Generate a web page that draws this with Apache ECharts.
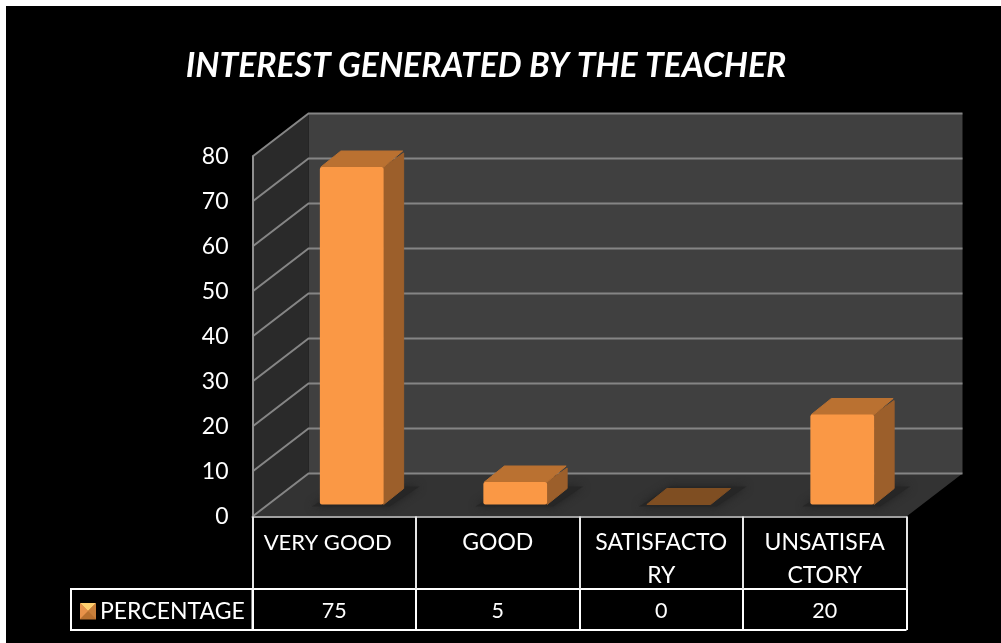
<!DOCTYPE html>
<html>
<head>
<meta charset="utf-8">
<style>html,body{margin:0;padding:0;background:#000}#c{width:1001px;height:643px}</style>
<script src="https://cdn.jsdelivr.net/npm/echarts@6/dist/echarts.min.js"></script>
</head>
<body>
<div id="c"></div>
<script>
const titleText = 'INTEREST GENERATED BY THE TEACHER';
const seriesName = 'PERCENTAGE';
const categories = ['VERY GOOD', 'GOOD', 'SATISFACTO\nRY', 'UNSATISFA\nCTORY'];
const percentages = [75, 5, 0, 20];
const yTicks = [0, 10, 20, 30, 40, 50, 60, 70, 80];

const FONT = 'Lato';
const G = {left: 252.5, top: 156.5, width: 654, height: 360};
const WALL = {dx: 56, dy: -43};
const BAR = {shiftX: 17.5, shiftY: -12, ratio: 0.39, dx: 20, dy: -16};

const chart = echarts.init(document.getElementById('c'), null, {renderer: 'canvas'});

function renderFrame(params, api) {
  const v = api.value(1);
  const left = api.coord([0, 0])[0] - api.size([1, 0])[0] / 2;
  const right = left + api.size([1, 0])[0] * categories.length;
  const y = api.coord([0, v])[1];
  const kids = [];
  if (params.dataIndex === 0) {
    const bottom = y, top = api.coord([0, yTicks[yTicks.length - 1]])[1];
    const d = WALL;
    kids.push({type: 'polygon', shape: {points: [[left + d.dx, top + d.dy], [right + d.dx, top + d.dy], [right + d.dx, bottom + d.dy], [left + d.dx, bottom + d.dy]]}, style: {fill: '#404040'}});
    kids.push({type: 'polygon', shape: {points: [[left, bottom], [left, top], [left + d.dx, top + d.dy], [left + d.dx, bottom + d.dy]]}, style: {fill: '#2a2a2a'}});
    kids.push({type: 'polygon', shape: {points: [[left, bottom], [right, bottom], [right + d.dx, bottom + d.dy], [left + d.dx, bottom + d.dy]]}, style: {fill: '#333333'}});
  }
  kids.push({type: 'polyline', shape: {points: [[left, y], [left + WALL.dx, y + WALL.dy], [right + WALL.dx, y + WALL.dy]]}, style: {fill: 'none', stroke: '#858585', lineWidth: 2}});
  return {type: 'group', children: kids};
}

function renderBar(params, api) {
  const idx = api.value(0), v = api.value(1);
  const base = api.coord([idx, 0]), tip = api.coord([idx, v]);
  const w = api.size([1, 0])[0] * BAR.ratio;
  const x0 = base[0] + BAR.shiftX - w / 2, x1 = x0 + w;
  const yb = base[1] + BAR.shiftY, yt = tip[1] + BAR.shiftY;
  const dx = BAR.dx, dy = BAR.dy;
  const edge = c => ({fill: c, stroke: c, lineWidth: 1, lineJoin: 'round'});
  const kids = [{
    type: 'polygon',
    shape: {points: [[x0 - 8, yb + 2], [x1 + 6, yb + 2], [x1 + dx + 16, yb + dy - 2], [x0 + dx + 4, yb + dy - 2]]},
    style: {fill: '#262626', shadowBlur: 8, shadowColor: '#222222'}
  }];
  if (v === 0) {
    kids.push({type: 'polygon', shape: {points: [[x0, yb], [x1, yb], [x1 + dx, yb + dy], [x0 + dx, yb + dy]]}, style: edge('#7f4e22')});
  } else {
    kids.push({type: 'polygon', shape: {points: [[x1, yb], [x1 + dx, yb + dy], [x1 + dx, yt + dy + 2], [x1, yt]]}, style: edge('#9c5f2b')});
    kids.push({type: 'polygon', shape: {points: [[x0 + 1, yt], [x1, yt], [x1 + dx - 1, yt + dy], [x0 + dx + 1, yt + dy]]}, style: edge('#ba7131')});
    kids.push({type: 'rect', shape: {x: x0, y: yt, width: w, height: yb - yt, r: 2}, style: {fill: '#fa9845'}});
  }
  return {type: 'group', children: kids};
}

const tableBottom = G.top + G.height + 113.5;
const rowTop = G.top + G.height + 72.5;
const sw = {x: 80, y: 603, s: 16};

chart.setOption({
  animation: false,
  backgroundColor: '#000000',
  textStyle: {fontFamily: FONT},
  title: {
    text: titleText, left: 481, top: 44, textAlign: 'center',
    textStyle: {color: '#ffffff', fontFamily: FONT, fontSize: 33.7, fontWeight: 'bold', fontStyle: 'italic'}
  },
  legend: {
    data: [seriesName], left: sw.x - 5, top: 595, itemWidth: sw.s, itemHeight: sw.s, itemGap: 0, icon: 'rect',
    selectedMode: false,
    textStyle: {color: '#ffffff', fontFamily: FONT, fontSize: 23, padding: [0, 0, 0, -1]}
  },
  grid: G,
  xAxis: [{
    type: 'category',
    data: categories.map((c, i) => i === 0 ? {value: c, textStyle: {fontSize: 22, padding: [0, 13, 0, 0]}} : c),
    position: 'bottom', z: 3,
    axisLine: {lineStyle: {color: '#a0a0a0', width: 2}},
    axisTick: {show: true, length: 72.5, lineStyle: {color: '#e6e6e6', width: 2}},
    axisLabel: {color: '#ffffff', fontFamily: FONT, fontSize: 23, lineHeight: 33, margin: 10, verticalAlign: 'top', interval: 0}
  }, {
    type: 'category', data: percentages.map(String), position: 'bottom', offset: 72.5, z: 3,
    axisLine: {lineStyle: {color: '#ffffff', width: 2}},
    axisTick: {show: true, length: 41, lineStyle: {color: '#ffffff', width: 2}},
    axisLabel: {color: '#ffffff', fontFamily: FONT, fontSize: 21.5, margin: 11, verticalAlign: 'top', interval: 0}
  }],
  yAxis: {
    type: 'value', min: 0, max: 80, interval: 10, z: 3,
    axisLine: {show: true, lineStyle: {color: '#8f8f8f', width: 2}},
    axisTick: {show: false},
    splitLine: {show: false},
    axisLabel: {color: '#ffffff', fontFamily: FONT, fontSize: 23, margin: 24, padding: [5, 0, 0, 0]}
  },
  series: [{
    name: 'frame', type: 'custom', z: 1, silent: true, xAxisIndex: 0,
    data: yTicks.map(t => [0, t]), renderItem: renderFrame, clip: false
  }, {
    name: seriesName, type: 'custom', z: 2, silent: true, xAxisIndex: 0,
    itemStyle: {color: '#b8702f'},
    data: percentages.map((p, i) => [i, p]), renderItem: renderBar, clip: false
  }],
  graphic: [
    {type: 'rect', shape: {x: 0, y: 0, width: 1001, height: 6}, style: {fill: '#ffffff'}},
    {type: 'rect', shape: {x: 0, y: 0, width: 6, height: 643}, style: {fill: '#ffffff'}},
    {type: 'rect', z: 5, shape: {x: 71, y: rowTop, width: G.left - 71, height: tableBottom - rowTop}, style: {fill: 'none', stroke: '#ffffff', lineWidth: 2}},
    {type: 'line', z: 5, shape: {x1: G.left, y1: tableBottom, x2: G.left + G.width, y2: tableBottom}, style: {stroke: '#ffffff', lineWidth: 2}},
    {type: 'polygon', z: 50, shape: {points: [[sw.x, sw.y], [sw.x + sw.s, sw.y], [sw.x + sw.s / 2, sw.y + sw.s / 2]]}, style: {fill: '#ffcf6e'}},
    {type: 'polygon', z: 50, shape: {points: [[sw.x, sw.y], [sw.x + sw.s / 2, sw.y + sw.s / 2], [sw.x, sw.y + sw.s]]}, style: {fill: '#e8924a'}},
    {type: 'polygon', z: 50, shape: {points: [[sw.x + sw.s, sw.y], [sw.x + sw.s / 2, sw.y + sw.s / 2], [sw.x + sw.s, sw.y + sw.s]]}, style: {fill: '#c97f3a'}}
  ]
});
</script>
</body>
</html>
